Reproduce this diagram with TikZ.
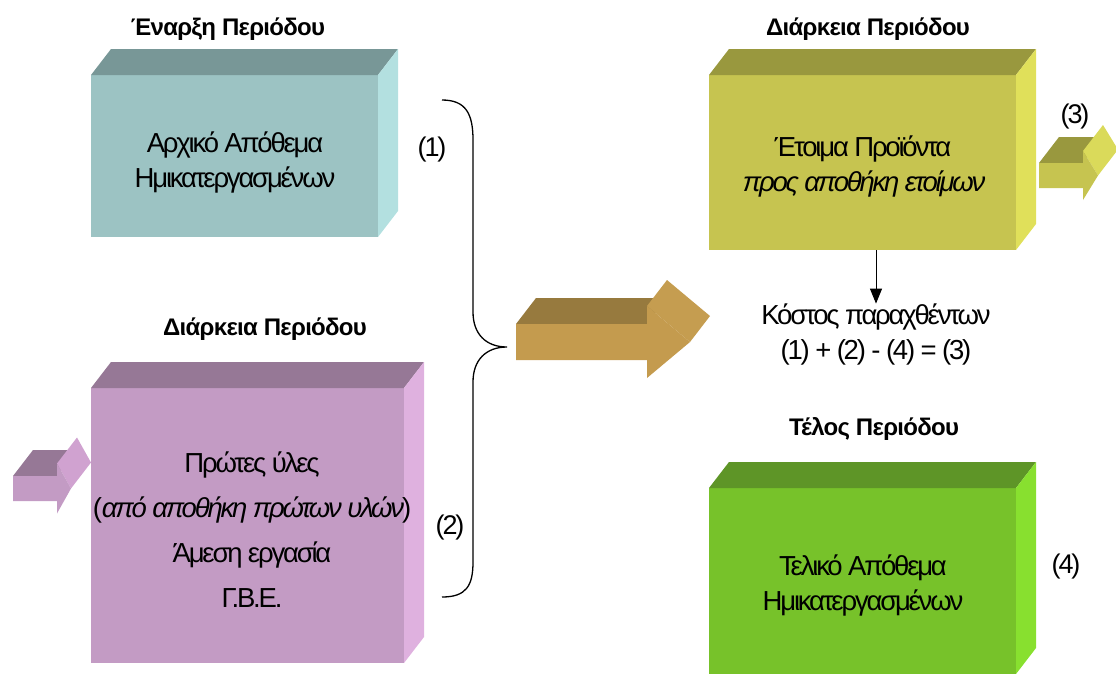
\documentclass[tikz,border=0pt]{standalone}
\usepackage{fontspec}
\setmainfont{Liberation Sans}
\newfontfamily\bodyfont{Liberation Sans}[LetterSpace=-8]
\newfontfamily\headfont{Liberation Sans}[LetterSpace=-3]
\usetikzlibrary{arrows.meta,calc}

% face colours of the cuboids and 3-D arrows
\definecolor{tealF}{HTML}{9CC3C3}\definecolor{tealT}{HTML}{789797}\definecolor{tealS}{HTML}{B3E0E0}
\definecolor{purpF}{HTML}{C39BC4}\definecolor{purpT}{HTML}{967896}\definecolor{purpS}{HTML}{DFB1DF}\definecolor{purpH}{HTML}{D0A2D0}
\definecolor{yelF}{HTML}{C6C450}\definecolor{yelT}{HTML}{99983E}\definecolor{yelS}{HTML}{E0E05A}\definecolor{yelH}{HTML}{DADA5A}
\definecolor{grnF}{HTML}{77C22A}\definecolor{grnT}{HTML}{5E9527}\definecolor{grnS}{HTML}{88E02F}
\definecolor{goldF}{HTML}{C49B4E}\definecolor{goldT}{HTML}{977A3E}\definecolor{goldH}{HTML}{C59D50}

\tikzset{
  front/.style={draw=none, inner sep=0pt, outer sep=0pt},
  title/.style={font=\headfont\bfseries\fontsize{24}{28}\selectfont, inner sep=0pt},
  body/.style={font=\bodyfont\fontsize{27.5}{35}\selectfont, align=center, inner sep=0pt},
  tag/.style={font=\bodyfont\fontsize{27}{32}\selectfont, inner sep=0pt},
  brace/.style={draw=black, line width=1.3pt},
  down/.style={draw=black, line width=1pt, -{Triangle[width=12pt,length=15pt]}},
}

% cuboid: #1 name, #2 centre, #3 width, #4 height, #5 front, #6 top, #7 side
\newcommand{\cuboid}[7]{%
  \node[front, fill=#5, minimum width=#3pt, minimum height=#4pt] (#1) at #2 {};
  \fill[#6] (#1.north west) -- ++(20,-26) -- ($(#1.north east)+(20,-26)$) -- (#1.north east) -- cycle;
  \fill[#7] (#1.north east) -- ++(20,-26) -- ($(#1.south east)+(20,-26)$) -- (#1.south east) -- cycle;
}

% extruded arrow: #1 left x, #2 centre y, #3 shaft half-height, #4 head base x,
% #5 head half-height, #6 tip x, #7 front, #8 top, #9 head slope
\newcommand{\solidarrow}[9]{%
  \fill[#8] (#1,#2-#3) -- (#1+20,#2-#3-26) -- (#4+20,#2-#3-26) -- (#4,#2-#3) -- cycle;
  \fill[#9] (#4,#2-#5) -- (#4+20,#2-#5-26) -- (#6+20,#2-26) -- (#6,#2) -- cycle;
  \fill[#7] (#1,#2-#3) -- (#4,#2-#3) -- (#4,#2-#5) -- (#6,#2) -- (#4,#2+#5) -- (#4,#2+#3) -- (#1,#2+#3) -- cycle;
}

\begin{document}
\begin{tikzpicture}[x=1pt, y=-1pt]
\useasboundingbox (0,0) rectangle (1116,673);

% cuboids
\cuboid{bx1}{(234.5,156)}{287}{162}{tealF}{tealT}{tealS}
\cuboid{bx2}{(247.5,525.5)}{313}{275}{purpF}{purpT}{purpS}
\cuboid{bx3}{(862.5,162.5)}{307}{175}{yelF}{yelT}{yelS}
\cuboid{bx4}{(862.5,581)}{307}{186}{grnF}{grnT}{grnS}

% arrows
\solidarrow{516}{342}{18}{647}{36}{690}{goldF}{goldT}{goldH}
\solidarrow{13}{488.5}{12.5}{57}{25}{71}{purpF}{purpT}{purpH}
\solidarrow{1039}{175.5}{12.5}{1083}{24.5}{1098}{yelF}{yelT}{yelH}

% titles
\node[title] (h1) at (228,29) {Έναρξη Περιόδου};
\node[title] (h2) at (265,329) {Διάρκεια Περιόδου};
\node[title] (h3) at (868,29) {Διάρκεια Περιόδου};
\node[title] (h4) at (874,429) {Τέλος Περιόδου};

% box texts
\node[body] (t1) at (235,162.5) {Αρχικό Απόθεμα\\Ημικατεργασμένων};
\node[body, font=\bodyfont\fontsize{27.5}{45}\selectfont] (t2) at (252,530)
  {Πρώτες ύλες\\(\textit{από αποθήκη πρώτων υλών})\\Άμεση εργασία\\Γ.Β.Ε.};
\node[body] (t3) at (863,166.5) {Έτοιμα Προϊόντα\\\textit{προς αποθήκη ετοίμων}};
\node[body] (t4) at (863,585) {Τελικό Απόθεμα\\Ημικατεργασμένων};
\node[body] (cost) at (876,334.5) {Κόστος παραχθέντων\\(1) + (2) - (4) = (3)};

% labels
\node[tag] (l1) at (432,150) {(1)};
\node[tag] (l2) at (450,528) {(2)};
\node[tag] (l3) at (1075,117) {(3)};
\node[tag] (l4) at (1066,567) {(4)};

% brace gathering (1) and (2)
\coordinate (bt) at (442,100);
\coordinate (bm) at (507,347);
\coordinate (bb) at (442,597);
\draw[brace] (bt) .. controls (466,100) and (473,114) .. (473,140)
  -- (473,312) .. controls (473,334) and (486,347) .. (bm)
  .. controls (486,347) and (473,360) .. (473,382)
  -- (473,562) .. controls (473,586) and (466,597) .. (bb);

% cost of goods produced
\draw[down] (bx3.south -| cost) -- (cost.north);
\end{tikzpicture}
\end{document}
